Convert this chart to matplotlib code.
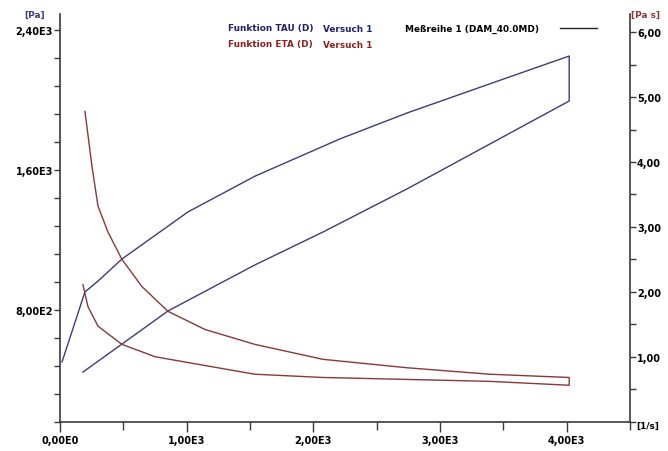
import matplotlib.pyplot as plt
from matplotlib.ticker import FixedLocator, MultipleLocator

# ---- data (hysteresis loop, ramp up then down)
rate_up = [16, 197, 300, 489, 1010, 1538, 2209, 2738, 3393, 4020]
tau_up = [501, 901, 963, 1089, 1358, 1562, 1775, 1923, 2090, 2249]
rate_down = [4020, 3393, 2738, 2075, 1538, 852, 489, 181]
tau_down = [1992, 1746, 1489, 1243, 1055, 792, 603, 443]

eta_rate_up = [197, 252, 300, 379, 489, 647, 852, 1144, 1538, 2075, 2738, 3393, 4020]
eta_up = [4.78, 3.94, 3.32, 2.92, 2.50, 2.08, 1.70, 1.42, 1.19, 0.96, 0.83, 0.73, 0.68]
eta_rate_down = [4020, 3393, 2738, 2075, 1538, 1010, 750, 489, 300, 221, 181]
eta_down = [0.56, 0.62, 0.65, 0.68, 0.73, 0.91, 1.00, 1.19, 1.47, 1.77, 2.11]

x_ticks = [0, 1000, 2000, 3000, 4000]
x_labels = ["0,00E0", "1,00E3", "2,00E3", "3,00E3", "4,00E3"]
left_ticks = [800, 1600, 2400]
left_labels = ["8,00E2", "1,60E3", "2,40E3"]
right_ticks = [1, 2, 3, 4, 5, 6]
right_labels = ["1,00", "2,00", "3,00", "4,00", "5,00", "6,00"]

# -------------------------- #

W, H = 668, 452
fig = plt.figure(figsize=(W / 100, H / 100), dpi=100)
fig.patch.set_facecolor("white")

font = dict(family="DejaVu Sans", fontweight="bold", fontsize=7)
small = dict(family="DejaVu Sans", fontweight="bold", fontsize=6.4)
blue = "#3c3c7e"
red = "#8a3838"
axis_col = "#3a3a3a"

left, right, bottom, top = 60, 630, 422.6, 15
ax1 = fig.add_axes([left / W, 1 - bottom / H, (right - left) / W, (bottom - top) / H])
ax2 = ax1.twinx()

ax1.plot(rate_up + rate_down, tau_up + tau_down, color=blue, lw=1.0)
ax2.plot(eta_rate_up + eta_rate_down, eta_up + eta_down, color=red, lw=1.0)

ax1.set_xlim(0, 4500)
ax1.set_ylim(160, 160 + (bottom - top) * 800 / 140)
ax2.set_ylim(0, (422 - top) / 64.8)

for sp in ["top", "right"]:
    ax1.spines[sp].set_visible(False)
for sp in ["top", "left", "bottom"]:
    ax2.spines[sp].set_visible(False)
for sp in [ax1.spines["left"], ax1.spines["bottom"], ax2.spines["right"]]:
    sp.set_color(axis_col)
    sp.set_linewidth(1.2)

ax1.xaxis.set_major_locator(FixedLocator(x_ticks))
ax1.set_xticklabels(x_labels, **font)
ax1.xaxis.set_minor_locator(MultipleLocator(500))
ax1.yaxis.set_major_locator(FixedLocator(left_ticks))
ax1.set_yticklabels(left_labels, **font)
ax1.yaxis.set_minor_locator(MultipleLocator(160))
ax2.yaxis.set_major_locator(FixedLocator(right_ticks))
ax2.set_yticklabels(right_labels, **font)
ax2.yaxis.set_minor_locator(MultipleLocator(0.5))

ax1.tick_params(axis="x", which="major", length=7, width=1.0, color=axis_col, pad=3)
ax1.tick_params(axis="x", which="minor", length=6, width=1.0, color=axis_col)
ax1.tick_params(axis="y", which="both", length=4, width=1.0, color=axis_col, pad=1)
ax2.tick_params(axis="y", which="both", length=4, width=1.0, color=axis_col, pad=1)

# ---- units and legend texts
fig.text(24 / W, 1 - 15 / H, "[Pa]", color=blue, ha="left", va="center", **small)
fig.text(631 / W, 1 - 15 / H, "[Pa s]", color=red, ha="left", va="center", **small)
fig.text(636 / W, 1 - 426 / H, "[1/s]", color="black", ha="left", va="center", **small)

fig.text(228 / W, 1 - 29 / H, "Funktion TAU (D)", color="#202070", ha="left", va="center", **small)
fig.text(323 / W, 1 - 29 / H, "Versuch 1", color="#202070", ha="left", va="center", **small)
fig.text(228 / W, 1 - 45 / H, "Funktion ETA (D)", color="#902020", ha="left", va="center", **small)
fig.text(323 / W, 1 - 45 / H, "Versuch 1", color="#902020", ha="left", va="center", **small)
fig.text(405 / W, 1 - 29 / H, "Meßreihe 1 (DAM_40.0MD)", color="black", ha="left", va="center", **small)
fig.add_artist(plt.Line2D([560 / W, 597 / W], [1 - 29 / H, 1 - 29 / H], color="#222222", lw=1.0))

fig.savefig("out.png", dpi=100, facecolor="white")
